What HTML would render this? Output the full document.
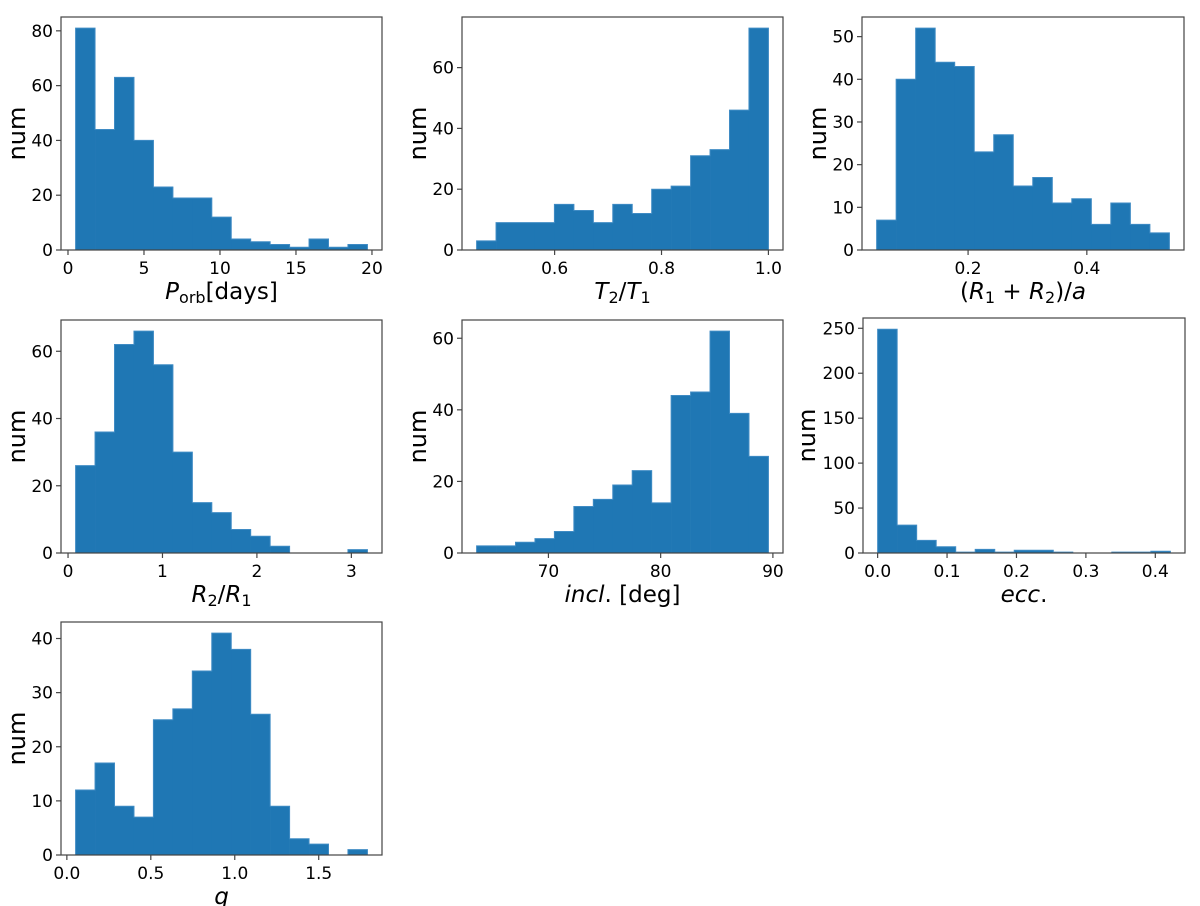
<!DOCTYPE html>
<html><head><meta charset="utf-8">
<style>
html,body{margin:0;padding:0;background:#fff;}
svg{display:block;font-family:"DejaVu Sans","Liberation Sans",sans-serif;}
</style></head>
<body>
<svg id="fig" width="1200" height="906" viewBox="0 0 1200 906" xmlns="http://www.w3.org/2000/svg"></svg>
<script>
// ---- data ----
const porbCounts = [81,44,63,40,23,19,19,12,4,3,2,1,4,1,2];
const porbRange = [0.5, 19.7];
const porbXTicks = [0,5,10,15,20];
const porbYTicks = [0,20,40,60,80];

const tratioCounts = [3,9,9,9,15,13,9,15,12,20,21,31,33,46,73];
const tratioRange = [0.454, 1.0];
const tratioXTicks = [0.6,0.8,1.0];
const tratioYTicks = [0,20,40,60];

const rsumCounts = [7,40,52,44,43,23,27,15,17,11,12,6,11,6,4];
const rsumRange = [0.046, 0.539];
const rsumXTicks = [0.2,0.4];
const rsumYTicks = [0,10,20,30,40,50];

const rratioCounts = [26,36,62,66,56,30,15,12,7,5,2,0,0,0,1];
const rratioRange = [0.08, 3.17];
const rratioXTicks = [0,1,2,3];
const rratioYTicks = [0,20,40,60];

const inclCounts = [2,2,3,4,6,13,15,19,23,14,44,45,62,39,27];
const inclRange = [63.6, 89.6];
const inclXTicks = [70,80,90];
const inclYTicks = [0,20,40,60];

const eccCounts = [249,31,14,7,1,4,1,3,3,1,0,0,1,1,2];
const eccRange = [0.0, 0.4217];
const eccXTicks = [0.0,0.1,0.2,0.3,0.4];
const eccYTicks = [0,50,100,150,200,250];

const qCounts = [12,17,9,7,25,27,34,41,38,26,9,3,2,0,1];
const qRange = [0.052, 1.79];
const qXTicks = [0.0,0.5,1.0,1.5];
const qYTicks = [0,10,20,30,40];

const NS = "http://www.w3.org/2000/svg";
const svg = document.getElementById('fig');
function mk(tag, attrs, parent){
  const e = document.createElementNS(NS, tag);
  for (const k in attrs) e.setAttribute(k, attrs[k]);
  (parent||svg).appendChild(e);
  return e;
}
function fmt(v, dec){ return dec ? v.toFixed(dec) : String(v); }

function panel(name, box, counts, range, xticks, yticks, xdec, labelHTML, ylabOffset){
  const g = mk('g', {});
  
  
  const [L,T,R,B] = box;
  const span = range[1]-range[0];
  const x0 = range[0]-0.05*span, x1 = range[1]+0.05*span;
  const ymax = Math.max(...counts)*1.05;
  const sx = v => L + (v-x0)/(x1-x0)*(R-L);
  const sy = v => B - v/ymax*(B-T);
  const w = span/counts.length;
  let d = 'M' + sx(range[0]) + ',' + sy(0);
  counts.forEach((c,i)=>{
    d += ' L' + sx(range[0]+i*w) + ',' + sy(c) + ' L' + sx(range[0]+(i+1)*w) + ',' + sy(c);
  });
  d += ' L' + sx(range[1]) + ',' + sy(0) + ' Z';
  counts.forEach((c,i)=>{
    if (c<=0) return;
    const r = mk('rect', {x: sx(range[0]+i*w), y: sy(c), width: sx(range[0]+(i+1)*w)-sx(range[0]+i*w)+0.3, height: sy(0)-sy(c), fill:'#1f77b4'}, g);
    
    
  });
  mk('path', {d: d, fill:'none', stroke:'#3f8bc4', 'stroke-width':1}, g);
  const frame = mk('rect', {x:L, y:T, width:R-L, height:B-T, fill:'none', stroke:'#444', 'stroke-width':1.2}, g);
  
  
  xticks.forEach(v=>{
    const x = sx(v);
    mk('line', {x1:x, y1:B, x2:x, y2:B+5, stroke:'#444', 'stroke-width':1.2}, g);
    const t = mk('text', {x:x, y:B+24, 'font-size':17, 'text-anchor':'middle', fill:'#000'}, g);
    t.textContent = fmt(v, xdec);
    
    
  });
  yticks.forEach(v=>{
    const y = sy(v);
    mk('line', {x1:L-5, y1:y, x2:L, y2:y, stroke:'#444', 'stroke-width':1.2}, g);
    const t = mk('text', {x:L-8, y:y+6, 'font-size':17, 'text-anchor':'end', fill:'#000'}, g);
    t.textContent = String(v);
    
    
  });
  const yl = mk('text', {x:0, y:0, 'font-size':24, 'text-anchor':'middle', fill:'#000',
    transform:'translate(' + (L-ylabOffset) + ',' + ((T+B)/2) + ') rotate(-90)'}, g);
  yl.textContent = 'num';
  
  
  const xl = mk('text', {x:(L+R)/2, y:B+49, 'font-size':23, 'text-anchor':'middle', fill:'#000'}, g);
  xl.innerHTML = labelHTML;
  
  
}
const sub = s => '<tspan baseline-shift="-25%" font-size="16">' + s + '</tspan>';
panel('porb', [61,17,382,250], porbCounts, porbRange, porbXTicks, porbYTicks, 0,
  '<tspan font-style="italic">P</tspan>' + sub('orb') + '<tspan>[days]</tspan>', 36);
panel('temp-ratio', [462,17,783,250], tratioCounts, tratioRange, tratioXTicks, tratioYTicks, 1,
  '<tspan font-style="italic">T</tspan>' + sub('2') + '<tspan>/</tspan><tspan font-style="italic">T</tspan>' + sub('1'), 36);
panel('radius-sum', [862,17,1184,250], rsumCounts, rsumRange, rsumXTicks, rsumYTicks, 1,
  '(<tspan font-style="italic">R</tspan>' + sub('1') + '<tspan> + </tspan><tspan font-style="italic">R</tspan>' + sub('2') + '<tspan>)/</tspan><tspan font-style="italic">a</tspan>', 36);
panel('radius-ratio', [61,320,382,553], rratioCounts, rratioRange, rratioXTicks, rratioYTicks, 0,
  '<tspan font-style="italic">R</tspan>' + sub('2') + '<tspan>/</tspan><tspan font-style="italic">R</tspan>' + sub('1'), 36);
panel('inclination', [462,320,783,553], inclCounts, inclRange, inclXTicks, inclYTicks, 0,
  '<tspan font-style="italic">incl</tspan>.  [deg]', 36);
panel('eccentricity', [863,318,1185,553], eccCounts, eccRange, eccXTicks, eccYTicks, 1,
  '<tspan font-style="italic">ecc</tspan>.', 48);
panel('mass-ratio', [61,622,382,855], qCounts, qRange, qXTicks, qYTicks, 1,
  '<tspan font-style="italic">q</tspan>', 36);
</script>
</body></html>
